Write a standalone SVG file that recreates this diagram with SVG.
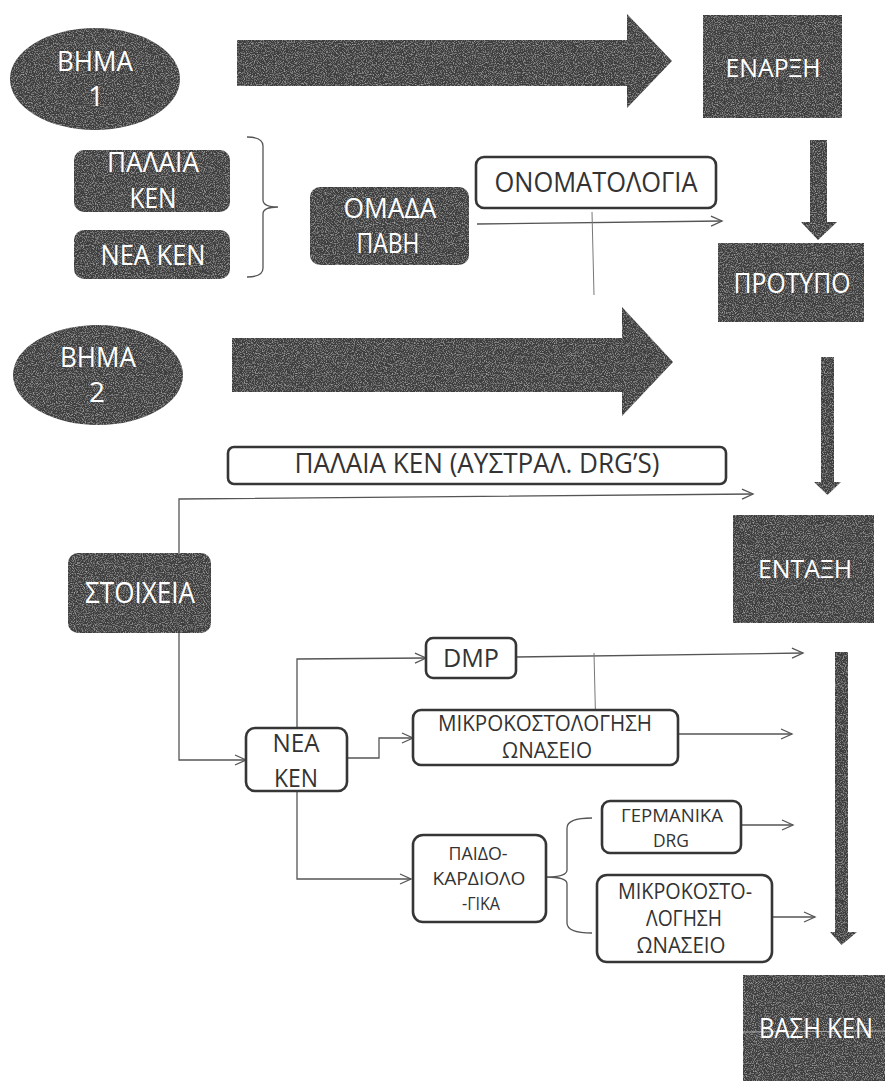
<svg xmlns="http://www.w3.org/2000/svg" width="885" height="1081" viewBox="0 0 885 1081">
  <style>
    .dark { fill: #3e3e3e; }
    .box { fill: #ffffff; stroke: #363636; stroke-width: 2.6; }
    .wt { fill: #ffffff; font-family: "Open Sans", "Noto Sans", sans-serif; text-anchor: middle; }
    .bt { fill: #333333; font-family: "Open Sans", "Noto Sans", sans-serif; text-anchor: middle; }
    .link { fill: none; stroke: #555555; stroke-width: 1.3; }
    .stray { fill: none; stroke: #777777; stroke-width: 1; }
  </style>
  <defs>
    <filter id="grain" x="0" y="0" width="100%" height="100%">
      <feTurbulence type="fractalNoise" baseFrequency="0.9" numOctaves="2" seed="7" result="noise"/>
      <feColorMatrix in="noise" type="matrix" values="0 0 0 0 1  0 0 0 0 1  0 0 0 0 1  0.9 0 0 0 -0.42" result="speck"/>
      <feComposite in="speck" in2="SourceGraphic" operator="in" result="spots"/>
      <feMerge>
        <feMergeNode in="SourceGraphic"/>
        <feMergeNode in="spots"/>
      </feMerge>
    </filter>
    <marker id="open" markerUnits="userSpaceOnUse" markerWidth="14" markerHeight="12" refX="12" refY="6" orient="auto">
      <path d="M1,1 L12,6 L1,11" fill="none" stroke="#555555" stroke-width="1.3"/>
    </marker>
  </defs>

  <!-- thin connectors and braces -->
  <g id="connectors">
    <!-- brace joining the two KEN groups -->
    <path class="link" d="M247,137 Q263,137 263,146 L263,200 Q263,207 278,207 Q263,207 263,214 L263,268 Q263,277 247,277"/>
    <!-- ΟΜΑΔΑ ΠΑΒΗ to ΠΡΟΤΥΠΟ -->
    <line class="link" x1="477" y1="224" x2="722" y2="221" marker-end="url(#open)"/>
    <line class="stray" x1="592" y1="212" x2="594" y2="295"/>
    <!-- ΣΤΟΙΧΕΙΑ to ΕΝΤΑΞΗ -->
    <polyline class="link" points="179,553 179,499 753,494" marker-end="url(#open)"/>
    <!-- ΣΤΟΙΧΕΙΑ to ΝΕΑ ΚΕΝ -->
    <polyline class="link" points="179,633 179,760 246,760" marker-end="url(#open)"/>
    <!-- ΝΕΑ ΚΕΝ branches -->
    <polyline class="link" points="297,728 297,659 426,658" marker-end="url(#open)"/>
    <polyline class="link" points="347,758 379,758 379,738 413,738" marker-end="url(#open)"/>
    <polyline class="link" points="297,791 297,879 411,879" marker-end="url(#open)"/>
    <!-- outgoing arrows towards ΒΑΣΗ ΚΕΝ -->
    <line class="link" x1="516" y1="657" x2="803" y2="653" marker-end="url(#open)"/>
    <line class="stray" x1="594" y1="653" x2="596" y2="737"/>
    <line class="link" x1="678" y1="734" x2="792" y2="734" marker-end="url(#open)"/>
    <line class="link" x1="741" y1="825" x2="793" y2="825" marker-end="url(#open)"/>
    <line class="link" x1="772" y1="917" x2="815" y2="917" marker-end="url(#open)"/>
    <!-- brace after ΠΑΙΔΟΚΑΡΔΙΟΛΟΓΙΚΑ -->
    <path class="link" d="M592,818 Q567,818 567,828 L567,870 Q567,877 546,877 Q567,877 567,884 L567,923 Q567,933 592,933"/>
  </g>

  <!-- block arrows -->
  <g id="block-arrows">
    <polygon class="dark" filter="url(#grain)" points="237,40 627,40 627,14 672,61 627,108 627,86 237,86"/>
    <polygon class="dark" filter="url(#grain)" points="232,338 622,338 622,307 673,362 622,416 622,392 232,392"/>
    <polygon class="dark" filter="url(#grain)" points="810,140 827,140 827,222 837,222 818,240 801,222 810,222"/>
    <polygon class="dark" filter="url(#grain)" points="821,357 834,357 834,482 841,482 827.5,495 814,482 821,482"/>
    <polygon class="dark" filter="url(#grain)" points="835,652 848,652 848,932 857,932 841.5,945 830,932 835,932"/>
  </g>

  <g id="step1">
    <ellipse class="dark" filter="url(#grain)" cx="95" cy="79" rx="85" ry="51"/>
    <text class="wt" x="95" y="71" font-size="28" textLength="76" lengthAdjust="spacingAndGlyphs">ΒΗΜΑ</text>
    <text class="wt" x="96" y="106" font-size="28">1</text>
  </g>

  <g id="enarxi">
    <rect class="dark" filter="url(#grain)" x="703" y="15" width="139" height="103"/>
    <text class="wt" x="773" y="77" font-size="25" textLength="95" lengthAdjust="spacingAndGlyphs">ΕΝΑΡΞΗ</text>
  </g>

  <g id="palaia-ken">
    <rect class="dark" filter="url(#grain)" x="74" y="150" width="156" height="62" rx="10"/>
    <text class="wt" x="153" y="172" font-size="28" textLength="92" lengthAdjust="spacingAndGlyphs">ΠΑΛΑΙΑ</text>
    <text class="wt" x="153" y="208" font-size="28" textLength="47" lengthAdjust="spacingAndGlyphs">ΚΕΝ</text>
  </g>

  <g id="nea-ken-1">
    <rect class="dark" filter="url(#grain)" x="74" y="230" width="156" height="49" rx="10"/>
    <text class="wt" x="153" y="265" font-size="28" textLength="105" lengthAdjust="spacingAndGlyphs">ΝΕΑ ΚΕΝ</text>
  </g>

  <g id="omada-pavi">
    <rect class="dark" filter="url(#grain)" x="310" y="187" width="159" height="78" rx="10"/>
    <text class="wt" x="390" y="218" font-size="28" textLength="93" lengthAdjust="spacingAndGlyphs">ΟΜΑΔΑ</text>
    <text class="wt" x="388" y="253" font-size="28" textLength="63" lengthAdjust="spacingAndGlyphs">ΠΑΒΗ</text>
  </g>

  <g id="onomatologia">
    <rect class="box" x="476" y="157" width="240" height="51" rx="8"/>
    <text class="bt" x="596" y="192" font-size="28" textLength="203" lengthAdjust="spacingAndGlyphs">ΟΝΟΜΑΤΟΛΟΓΙΑ</text>
  </g>

  <g id="protypo">
    <rect class="dark" filter="url(#grain)" x="718" y="243" width="146" height="79"/>
    <text class="wt" x="792" y="293" font-size="28" textLength="117" lengthAdjust="spacingAndGlyphs">ΠΡΟΤΥΠΟ</text>
  </g>

  <g id="step2">
    <ellipse class="dark" filter="url(#grain)" cx="98" cy="375" rx="85" ry="50"/>
    <text class="wt" x="98" y="367" font-size="28" textLength="76" lengthAdjust="spacingAndGlyphs">ΒΗΜΑ</text>
    <text class="wt" x="97" y="402" font-size="28">2</text>
  </g>

  <g id="palaia-ken-aus">
    <rect class="box" x="228" y="447" width="498" height="37" rx="6"/>
    <text class="bt" x="477" y="473" font-size="27" textLength="365" lengthAdjust="spacingAndGlyphs">ΠΑΛΑΙΑ ΚΕΝ (ΑΥΣΤΡΑΛ. DRG’S)</text>
  </g>

  <g id="stoixeia">
    <rect class="dark" filter="url(#grain)" x="68" y="553" width="143" height="80" rx="10"/>
    <text class="wt" x="140" y="603" font-size="30" textLength="110" lengthAdjust="spacingAndGlyphs">ΣΤΟΙΧΕΙΑ</text>
  </g>

  <g id="entaxi">
    <rect class="dark" filter="url(#grain)" x="733" y="515" width="141" height="108"/>
    <text class="wt" x="805" y="578" font-size="26" textLength="94" lengthAdjust="spacingAndGlyphs">ΕΝΤΑΞΗ</text>
  </g>

  <g id="nea-ken-2">
    <rect class="box" x="246" y="728" width="101" height="63" rx="9"/>
    <text class="bt" x="296" y="752" font-size="26" textLength="47" lengthAdjust="spacingAndGlyphs">ΝΕΑ</text>
    <text class="bt" x="296" y="787" font-size="26" textLength="44" lengthAdjust="spacingAndGlyphs">ΚΕΝ</text>
  </g>

  <g id="dmp">
    <rect class="box" x="426" y="638" width="90" height="40" rx="7"/>
    <text class="bt" x="471" y="667" font-size="26" textLength="56" lengthAdjust="spacingAndGlyphs">DMP</text>
  </g>

  <g id="mikrokostologisi-1">
    <rect class="box" x="413" y="710" width="265" height="55" rx="8"/>
    <text class="bt" x="545" y="731" font-size="22" textLength="214" lengthAdjust="spacingAndGlyphs">ΜΙΚΡΟΚΟΣΤΟΛΟΓΗΣΗ</text>
    <text class="bt" x="547" y="758" font-size="22" textLength="90" lengthAdjust="spacingAndGlyphs">ΩΝΑΣΕΙΟ</text>
  </g>

  <g id="paidokardiologika">
    <rect class="box" x="413" y="835" width="133" height="87" rx="10"/>
    <text class="bt" x="478" y="860" font-size="19" textLength="59" lengthAdjust="spacingAndGlyphs">ΠΑΙΔΟ-</text>
    <text class="bt" x="479" y="885" font-size="19" textLength="93" lengthAdjust="spacingAndGlyphs">ΚΑΡΔΙΟΛΟ</text>
    <text class="bt" x="481" y="910" font-size="19" textLength="38" lengthAdjust="spacingAndGlyphs">-ΓΙΚΑ</text>
  </g>

  <g id="germanika-drg">
    <rect class="box" x="602" y="801" width="139" height="52" rx="8"/>
    <text class="bt" x="672" y="822" font-size="19" textLength="102" lengthAdjust="spacingAndGlyphs">ΓΕΡΜΑΝΙΚΑ</text>
    <text class="bt" x="671" y="847" font-size="19" textLength="36" lengthAdjust="spacingAndGlyphs">DRG</text>
  </g>

  <g id="mikrokostologisi-2">
    <rect class="box" x="597" y="875" width="175" height="87" rx="10"/>
    <text class="bt" x="685" y="899" font-size="21" textLength="134" lengthAdjust="spacingAndGlyphs">ΜΙΚΡΟΚΟΣΤΟ-</text>
    <text class="bt" x="684" y="926" font-size="21" textLength="76" lengthAdjust="spacingAndGlyphs">ΛΟΓΗΣΗ</text>
    <text class="bt" x="681" y="953" font-size="21" textLength="89" lengthAdjust="spacingAndGlyphs">ΩΝΑΣΕΙΟ</text>
  </g>

  <g id="vasi-ken">
    <rect class="dark" filter="url(#grain)" x="743" y="975" width="142" height="106"/>
    <line x1="743" y1="1032" x2="885" y2="1031" stroke="#aaaaaa" stroke-width="1"/>
    <text class="wt" x="816" y="1038" font-size="27" textLength="114" lengthAdjust="spacingAndGlyphs">ΒΑΣΗ ΚΕΝ</text>
  </g>
</svg>
